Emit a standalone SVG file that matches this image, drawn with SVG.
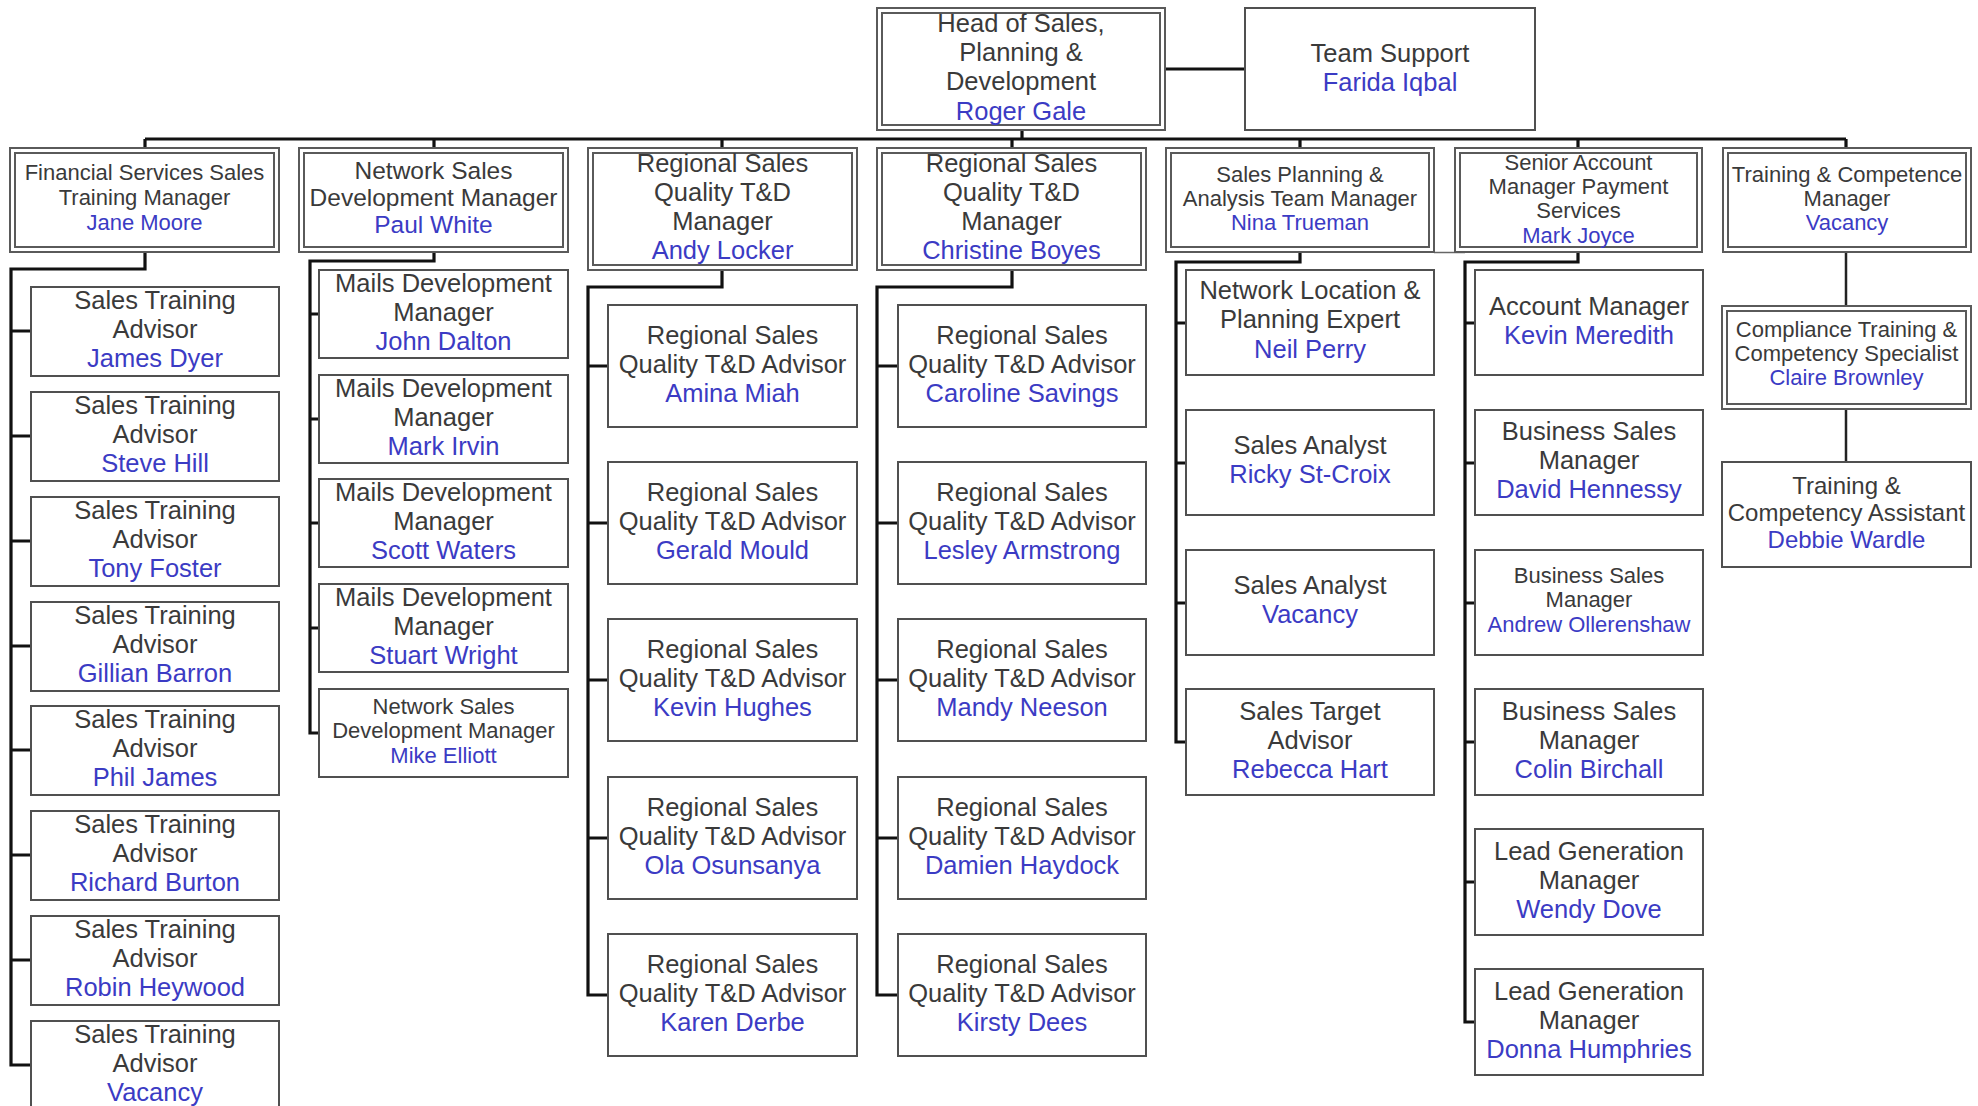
<svg xmlns="http://www.w3.org/2000/svg" width="1978" height="1106" viewBox="0 0 1978 1106">
<style>
text{font-family:"Liberation Sans",Arial,sans-serif;font-size:25.5px;fill:#3a3a3a;text-anchor:middle}
.n{fill:#3b3bc4}
.s{font-size:22px}
.m{font-size:24.5px}
.d{font-size:24px}
.o{fill:#fff;stroke:#5a5a5a;stroke-width:2}
.i{fill:none;stroke:#5a5a5a;stroke-width:2}
.b{fill:#fff;stroke:#505050;stroke-width:2}
.c{fill:none;stroke:#111;stroke-width:3.2;stroke-linejoin:miter}
.c2{fill:none;stroke:#222;stroke-width:2.5}
.thin{fill:none;stroke:#666;stroke-width:1.5}
</style>
<rect width="1978" height="1106" fill="#fff"/>
<g id="connectors">
<path class="c" d="M1165 69H1245"/>
<path class="c" d="M1022 130V139M145 139H1846M145 139V148M434 139V148M722 139V148M1012 139V148M1300 139V148M1578 139V148M1846 139V148"/>
<path class="c" d="M145 252V269H11V1065H31"/>
<path class="c" d="M11 331H31M11 436H31M11 541H31M11 646H31M11 750H31M11 855H31M11 960H31"/>
<path class="c" d="M434 252V261H310V733H319"/>
<path class="c" d="M310 314H319M310 419H319M310 523H319M310 628H319"/>
<path class="c" d="M722 270V287H588V995H608"/>
<path class="c" d="M588 366H608M588 523H608M588 680H608M588 838H608"/>
<path class="c" d="M1012 270V287H877V995H898"/>
<path class="c" d="M877 366H898M877 523H898M877 680H898M877 838H898"/>
<path class="c" d="M1300 252V262H1176V742H1186"/>
<path class="c" d="M1176 323H1186M1176 463H1186M1176 603H1186"/>
<path class="c" d="M1578 252V262H1465V1022H1475"/>
<path class="c" d="M1465 323H1475M1465 463H1475M1465 603H1475M1465 742H1475M1465 882H1475"/>
<path class="thin" d="M1434 252.5H1465"/>
<path class="c2" d="M1846 252V306M1846 409V462"/>
</g>
<g id="head"><rect class="o" x="877" y="8" width="288" height="122"/><rect class="i" x="882" y="13" width="278" height="112"/>
<text x="1021"><tspan x="1021" y="32">Head of Sales,</tspan><tspan x="1021" y="61">Planning &amp;</tspan><tspan x="1021" y="90">Development</tspan><tspan class="n" x="1021" y="120">Roger Gale</tspan></text></g>
<g id="team-support"><rect class="b" x="1245" y="8" width="290" height="122"/>
<text><tspan x="1390" y="62">Team Support</tspan><tspan class="n" x="1390" y="91">Farida Iqbal</tspan></text></g>

<g id="fsst-manager"><rect class="o" x="10" y="148" width="269" height="104"/><rect class="i" x="15" y="153" width="259" height="94"/>
<text class="s"><tspan x="144.5" y="180">Financial Services Sales</tspan><tspan x="144.5" y="205">Training Manager</tspan><tspan class="n" x="144.5" y="230">Jane Moore</tspan></text></g>
<g id="network-sales-manager"><rect class="o" x="299" y="148" width="269" height="104"/><rect class="i" x="304" y="153" width="259" height="94"/>
<text class="m"><tspan x="433.5" y="179">Network Sales</tspan><tspan x="433.5" y="206">Development Manager</tspan><tspan class="n" x="433.5" y="233">Paul White</tspan></text></g>
<g id="rsq-manager-andy"><rect class="o" x="588" y="148" width="269" height="122"/><rect class="i" x="593" y="153" width="259" height="112"/>
<text><tspan x="722.5" y="172">Regional Sales</tspan><tspan x="722.5" y="201">Quality T&amp;D</tspan><tspan x="722.5" y="230">Manager</tspan><tspan class="n" x="722.5" y="259">Andy Locker</tspan></text></g>
<g id="rsq-manager-christine"><rect class="o" x="877" y="148" width="269" height="122"/><rect class="i" x="882" y="153" width="259" height="112"/>
<text><tspan x="1011.5" y="172">Regional Sales</tspan><tspan x="1011.5" y="201">Quality T&amp;D</tspan><tspan x="1011.5" y="230">Manager</tspan><tspan class="n" x="1011.5" y="259">Christine Boyes</tspan></text></g>
<g id="sales-planning-manager"><rect class="o" x="1166" y="148" width="268" height="104"/><rect class="i" x="1171" y="153" width="258" height="94"/>
<text class="s"><tspan x="1300" y="182">Sales Planning &amp;</tspan><tspan x="1300" y="206">Analysis Team Manager</tspan><tspan class="n" x="1300" y="230">Nina Trueman</tspan></text></g>
<g id="senior-account-manager"><rect class="o" x="1455" y="148" width="247" height="104"/><rect class="i" x="1460" y="153" width="237" height="94"/>
<text class="s"><tspan x="1578.5" y="170">Senior Account</tspan><tspan x="1578.5" y="194">Manager Payment</tspan><tspan x="1578.5" y="218">Services</tspan><tspan class="n" x="1578.5" y="243">Mark Joyce</tspan></text></g>
<g id="tc-manager"><rect class="o" x="1723" y="148" width="248" height="104"/><rect class="i" x="1728" y="153" width="238" height="94"/>
<text class="s"><tspan x="1847" y="182">Training &amp; Competence</tspan><tspan x="1847" y="206">Manager</tspan><tspan class="n" x="1847" y="230">Vacancy</tspan></text></g>

<g id="sta-1"><rect class="b" x="31" y="287" width="248" height="89"/><text><tspan x="155" y="309">Sales Training</tspan><tspan x="155" y="338">Advisor</tspan><tspan class="n" x="155" y="367">James Dyer</tspan></text></g>
<g id="sta-2"><rect class="b" x="31" y="392" width="248" height="89"/><text><tspan x="155" y="414">Sales Training</tspan><tspan x="155" y="443">Advisor</tspan><tspan class="n" x="155" y="472">Steve Hill</tspan></text></g>
<g id="sta-3"><rect class="b" x="31" y="497" width="248" height="89"/><text><tspan x="155" y="519">Sales Training</tspan><tspan x="155" y="548">Advisor</tspan><tspan class="n" x="155" y="577">Tony Foster</tspan></text></g>
<g id="sta-4"><rect class="b" x="31" y="602" width="248" height="89"/><text><tspan x="155" y="624">Sales Training</tspan><tspan x="155" y="653">Advisor</tspan><tspan class="n" x="155" y="682">Gillian Barron</tspan></text></g>
<g id="sta-5"><rect class="b" x="31" y="706" width="248" height="89"/><text><tspan x="155" y="728">Sales Training</tspan><tspan x="155" y="757">Advisor</tspan><tspan class="n" x="155" y="786">Phil James</tspan></text></g>
<g id="sta-6"><rect class="b" x="31" y="811" width="248" height="89"/><text><tspan x="155" y="833">Sales Training</tspan><tspan x="155" y="862">Advisor</tspan><tspan class="n" x="155" y="891">Richard Burton</tspan></text></g>
<g id="sta-7"><rect class="b" x="31" y="916" width="248" height="89"/><text><tspan x="155" y="938">Sales Training</tspan><tspan x="155" y="967">Advisor</tspan><tspan class="n" x="155" y="996">Robin Heywood</tspan></text></g>
<g id="sta-8"><rect class="b" x="31" y="1021" width="248" height="89"/><text><tspan x="155" y="1043">Sales Training</tspan><tspan x="155" y="1072">Advisor</tspan><tspan class="n" x="155" y="1101">Vacancy</tspan></text></g>

<g id="mdm-1"><rect class="b" x="319" y="270" width="249" height="88"/><text><tspan x="443.5" y="292">Mails Development</tspan><tspan x="443.5" y="321">Manager</tspan><tspan class="n" x="443.5" y="350">John Dalton</tspan></text></g>
<g id="mdm-2"><rect class="b" x="319" y="375" width="249" height="88"/><text><tspan x="443.5" y="397">Mails Development</tspan><tspan x="443.5" y="426">Manager</tspan><tspan class="n" x="443.5" y="455">Mark Irvin</tspan></text></g>
<g id="mdm-3"><rect class="b" x="319" y="479" width="249" height="88"/><text><tspan x="443.5" y="501">Mails Development</tspan><tspan x="443.5" y="530">Manager</tspan><tspan class="n" x="443.5" y="559">Scott Waters</tspan></text></g>
<g id="mdm-4"><rect class="b" x="319" y="584" width="249" height="88"/><text><tspan x="443.5" y="606">Mails Development</tspan><tspan x="443.5" y="635">Manager</tspan><tspan class="n" x="443.5" y="664">Stuart Wright</tspan></text></g>
<g id="nsdm-mike"><rect class="b" x="319" y="689" width="249" height="88"/><text class="s"><tspan x="443.5" y="714">Network Sales</tspan><tspan x="443.5" y="738">Development Manager</tspan><tspan class="n" x="443.5" y="763">Mike Elliott</tspan></text></g>

<g id="rsqa-amina"><rect class="b" x="608" y="305" width="249" height="122"/><text><tspan x="732.5" y="344">Regional Sales</tspan><tspan x="732.5" y="373">Quality T&amp;D Advisor</tspan><tspan class="n" x="732.5" y="402">Amina Miah</tspan></text></g>
<g id="rsqa-gerald"><rect class="b" x="608" y="462" width="249" height="122"/><text><tspan x="732.5" y="501">Regional Sales</tspan><tspan x="732.5" y="530">Quality T&amp;D Advisor</tspan><tspan class="n" x="732.5" y="559">Gerald Mould</tspan></text></g>
<g id="rsqa-kevin"><rect class="b" x="608" y="619" width="249" height="122"/><text><tspan x="732.5" y="658">Regional Sales</tspan><tspan x="732.5" y="687">Quality T&amp;D Advisor</tspan><tspan class="n" x="732.5" y="716">Kevin Hughes</tspan></text></g>
<g id="rsqa-ola"><rect class="b" x="608" y="777" width="249" height="122"/><text><tspan x="732.5" y="816">Regional Sales</tspan><tspan x="732.5" y="845">Quality T&amp;D Advisor</tspan><tspan class="n" x="732.5" y="874">Ola Osunsanya</tspan></text></g>
<g id="rsqa-karen"><rect class="b" x="608" y="934" width="249" height="122"/><text><tspan x="732.5" y="973">Regional Sales</tspan><tspan x="732.5" y="1002">Quality T&amp;D Advisor</tspan><tspan class="n" x="732.5" y="1031">Karen Derbe</tspan></text></g>

<g id="rsqa-caroline"><rect class="b" x="898" y="305" width="248" height="122"/><text><tspan x="1022" y="344">Regional Sales</tspan><tspan x="1022" y="373">Quality T&amp;D Advisor</tspan><tspan class="n" x="1022" y="402">Caroline Savings</tspan></text></g>
<g id="rsqa-lesley"><rect class="b" x="898" y="462" width="248" height="122"/><text><tspan x="1022" y="501">Regional Sales</tspan><tspan x="1022" y="530">Quality T&amp;D Advisor</tspan><tspan class="n" x="1022" y="559">Lesley Armstrong</tspan></text></g>
<g id="rsqa-mandy"><rect class="b" x="898" y="619" width="248" height="122"/><text><tspan x="1022" y="658">Regional Sales</tspan><tspan x="1022" y="687">Quality T&amp;D Advisor</tspan><tspan class="n" x="1022" y="716">Mandy Neeson</tspan></text></g>
<g id="rsqa-damien"><rect class="b" x="898" y="777" width="248" height="122"/><text><tspan x="1022" y="816">Regional Sales</tspan><tspan x="1022" y="845">Quality T&amp;D Advisor</tspan><tspan class="n" x="1022" y="874">Damien Haydock</tspan></text></g>
<g id="rsqa-kirsty"><rect class="b" x="898" y="934" width="248" height="122"/><text><tspan x="1022" y="973">Regional Sales</tspan><tspan x="1022" y="1002">Quality T&amp;D Advisor</tspan><tspan class="n" x="1022" y="1031">Kirsty Dees</tspan></text></g>

<g id="nlpe-neil"><rect class="b" x="1186" y="270" width="248" height="105"/><text><tspan x="1310" y="299">Network Location &amp;</tspan><tspan x="1310" y="328">Planning Expert</tspan><tspan class="n" x="1310" y="358">Neil Perry</tspan></text></g>
<g id="analyst-ricky"><rect class="b" x="1186" y="410" width="248" height="105"/><text><tspan x="1310" y="454">Sales Analyst</tspan><tspan class="n" x="1310" y="483">Ricky St-Croix</tspan></text></g>
<g id="analyst-vacancy"><rect class="b" x="1186" y="550" width="248" height="105"/><text><tspan x="1310" y="594">Sales Analyst</tspan><tspan class="n" x="1310" y="623">Vacancy</tspan></text></g>
<g id="sta-rebecca"><rect class="b" x="1186" y="689" width="248" height="106"/><text><tspan x="1310" y="720">Sales Target</tspan><tspan x="1310" y="749">Advisor</tspan><tspan class="n" x="1310" y="778">Rebecca Hart</tspan></text></g>

<g id="am-kevin"><rect class="b" x="1475" y="270" width="228" height="105"/><text><tspan x="1589" y="315">Account Manager</tspan><tspan class="n" x="1589" y="344">Kevin Meredith</tspan></text></g>
<g id="bsm-david"><rect class="b" x="1475" y="410" width="228" height="105"/><text><tspan x="1589" y="440">Business Sales</tspan><tspan x="1589" y="469">Manager</tspan><tspan class="n" x="1589" y="498">David Hennessy</tspan></text></g>
<g id="bsm-andrew"><rect class="b" x="1475" y="550" width="228" height="105"/><text class="s"><tspan x="1589" y="583">Business Sales</tspan><tspan x="1589" y="607">Manager</tspan><tspan class="n" x="1589" y="632">Andrew Ollerenshaw</tspan></text></g>
<g id="bsm-colin"><rect class="b" x="1475" y="689" width="228" height="106"/><text><tspan x="1589" y="720">Business Sales</tspan><tspan x="1589" y="749">Manager</tspan><tspan class="n" x="1589" y="778">Colin Birchall</tspan></text></g>
<g id="lgm-wendy"><rect class="b" x="1475" y="829" width="228" height="106"/><text><tspan x="1589" y="860">Lead Generation</tspan><tspan x="1589" y="889">Manager</tspan><tspan class="n" x="1589" y="918">Wendy Dove</tspan></text></g>
<g id="lgm-donna"><rect class="b" x="1475" y="969" width="228" height="106"/><text><tspan x="1589" y="1000">Lead Generation</tspan><tspan x="1589" y="1029">Manager</tspan><tspan class="n" x="1589" y="1058">Donna Humphries</tspan></text></g>

<g id="compliance-claire"><rect class="o" x="1722" y="306" width="249" height="103"/><rect class="i" x="1727" y="311" width="239" height="93"/>
<text class="s"><tspan x="1846.5" y="337">Compliance Training &amp;</tspan><tspan x="1846.5" y="361">Competency Specialist</tspan><tspan class="n" x="1846.5" y="385">Claire Brownley</tspan></text></g>
<g id="tca-debbie"><rect class="b" x="1722" y="462" width="249" height="105"/>
<text class="d"><tspan x="1846.5" y="494">Training &amp;</tspan><tspan x="1846.5" y="521">Competency Assistant</tspan><tspan class="n" x="1846.5" y="548">Debbie Wardle</tspan></text></g>
</svg>
